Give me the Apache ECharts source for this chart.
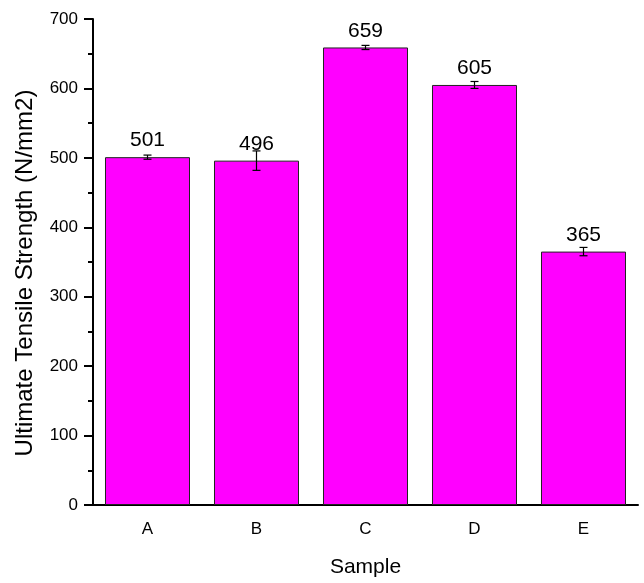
<!DOCTYPE html>
<html><head><meta charset="utf-8">
<script src="https://cdn.jsdelivr.net/npm/echarts@6/dist/echarts.min.js"></script>
<style>html,body{margin:0;padding:0;background:#fff}#c{width:644px;height:583px}</style>
</head><body><div id="c"></div>
<script>
var categories = ['A', 'B', 'C', 'D', 'E'];
var strengths = [501, 496, 659, 605, 365];
var errors = [3, 14, 3, 5, 6];
var yTicks = [0, 100, 200, 300, 400, 500, 600, 700];

var chart = echarts.init(document.getElementById('c'));
var font = 'Liberation Sans, Arial, sans-serif';
var errData = strengths.map(function (v, i) { return [i, v - errors[i], v + errors[i]]; });

chart.setOption({
  animation: false,
  grid: { left: 93, right: 6, top: 19, bottom: 78 },
  xAxis: [{
    type: 'category', data: categories, position: 'bottom',
    axisLine: { lineStyle: { color: '#000', width: 2 } },
    axisTick: { alignWithLabel: true, length: 9, lineStyle: { color: '#000', width: 2 } },
    axisLabel: { color: '#000', fontSize: 17, fontFamily: font, margin: 16 },
    name: 'Sample', nameLocation: 'middle', nameGap: 52,
    nameTextStyle: { color: '#000', fontSize: 21, fontFamily: font }
  }, {
    type: 'category', data: categories, position: 'bottom',
    axisLine: { show: false },
    axisTick: { alignWithLabel: false, length: 5, lineStyle: { color: '#000', width: 2 } },
    axisLabel: { show: false }
  }],
  yAxis: {
    type: 'value', min: 0, max: 700, interval: 100,
    axisLine: { show: true, lineStyle: { color: '#000', width: 2 } },
    axisTick: { show: true, length: 9, lineStyle: { color: '#000', width: 2 } },
    minorTick: { show: true, splitNumber: 2, length: 5, lineStyle: { color: '#000', width: 2 } },
    splitLine: { show: false },
    axisLabel: { color: '#000', fontSize: 17, fontFamily: font, margin: 15,
      formatter: function (v) { return yTicks.indexOf(v) >= 0 ? String(v) : ''; } },
    name: 'Ultimate Tensile Strength (N/mm2)', nameLocation: 'middle', nameGap: 56,
    nameTextStyle: { color: '#000', fontSize: 24, fontFamily: font, padding: [0, 22, 0, 0] }
  },
  series: [{
    type: 'bar', data: strengths, barWidth: '78%', xAxisIndex: 0,
    itemStyle: { color: '#FF00FF', borderColor: '#222', borderWidth: 1 },
    label: { show: true, position: 'top', distance: 6, color: '#000', fontSize: 21, fontFamily: font }
  }, {
    type: 'custom', xAxisIndex: 0, data: errData, z: 5,
    renderItem: function (params, api) {
      var x = api.value(0);
      var lo = api.coord([x, api.value(1)]);
      var hi = api.coord([x, api.value(2)]);
      var w = 4;
      var st = { stroke: '#000', lineWidth: 1.2 };
      return { type: 'group', children: [
        { type: 'line', shape: { x1: hi[0], y1: hi[1], x2: lo[0], y2: lo[1] }, style: st },
        { type: 'line', shape: { x1: hi[0] - w, y1: hi[1], x2: hi[0] + w, y2: hi[1] }, style: st },
        { type: 'line', shape: { x1: lo[0] - w, y1: lo[1], x2: lo[0] + w, y2: lo[1] }, style: st }
      ] };
    }
  }]
});
</script></body></html>
